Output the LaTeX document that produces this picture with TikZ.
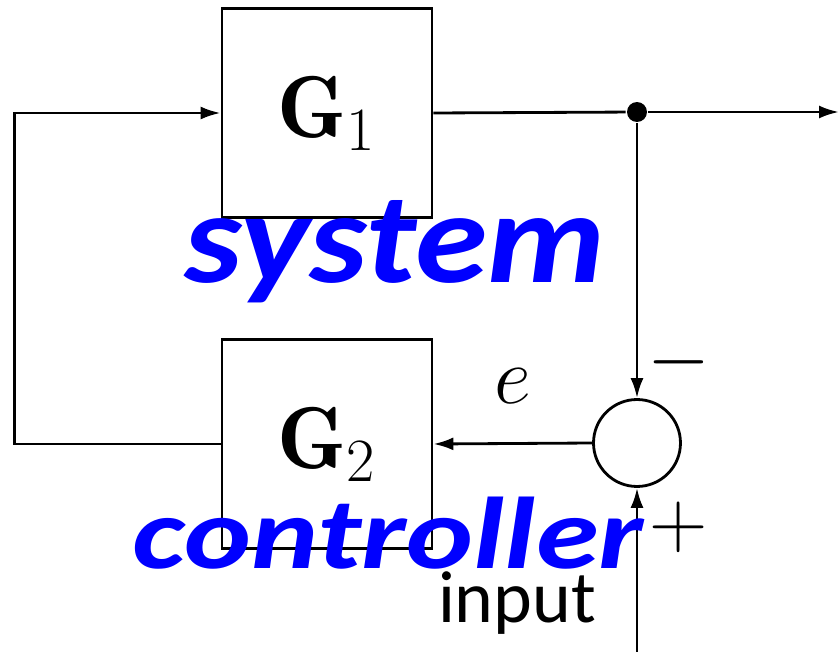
\RequirePackage{fix-cm}
\documentclass[tikz,border=0pt]{standalone}
\usepackage{amsmath, amssymb, bm}
\usepackage{fontspec}
\setsansfont{Carlito}
\usetikzlibrary{calc, arrows.meta, positioning}
\usepackage{xcolor}

\begin{document}
\begin{tikzpicture}[x=0.02cm, y=-0.02cm, line width=1.6pt,
    block/.style={draw, minimum width=4.2cm, minimum height=4.18cm, inner sep=0pt, font=\fontsize{50}{60}\selectfont},
    sumnode/.style={draw, circle, minimum size=1.74cm, inner sep=0pt},
    arr/.style={-{Latex[length=0.4cm, width=0.26cm]}},
    big/.style={font=\fontsize{46}{54}\selectfont, inner sep=0pt},
    hand/.style={text=blue, inner sep=0pt}]
      \useasboundingbox (0,0) rectangle (840,652);
      \node[block] (G1) at (327,113) {$\mathbf{G}_1$};
      \node[block] (G2) at (327,444) {$\mathbf{G}_2$};
      \node[sumnode] (sum) at (637,443) {};
      \node[circle, fill, minimum size=0.4cm, inner sep=0pt] (dot) at (637,112) {};
      \coordinate (out) at (839,112);
      \coordinate (in) at (637,652);
      \draw (G1.east) -- (dot);
      \draw[arr] (dot) -- (out);
      \draw[arr] (dot) -- (sum.north);
      \draw[arr] (in) -- (sum.south);
      \draw[arr] (sum.west) -- (G2.east);
      \draw[arr] (G2.west) -- ++(-206,0) |- (G1.west);
      \node[big] (minus) at (679,362) {$-$};
      \node[big] (plus) at (679,527) {$+$};
      \node[big] (e) at (513,386) {$e$};
      \node[font=\sffamily\fontsize{42}{50}\selectfont, inner sep=0pt] (inp) at (517,603) {input};
      % handwritten notes
      \node[hand, font=\sffamily\bfseries\itshape\fontsize{74}{80}\selectfont] (sys) at (395,252) {\scalebox{1.13}[1]{system}};
      \node[hand, font=\sffamily\bfseries\itshape\fontsize{58}{66}\selectfont] (ctrl) at (388,533) {\scalebox{1.25}[1]{controller}};
\end{tikzpicture}
\end{document}
